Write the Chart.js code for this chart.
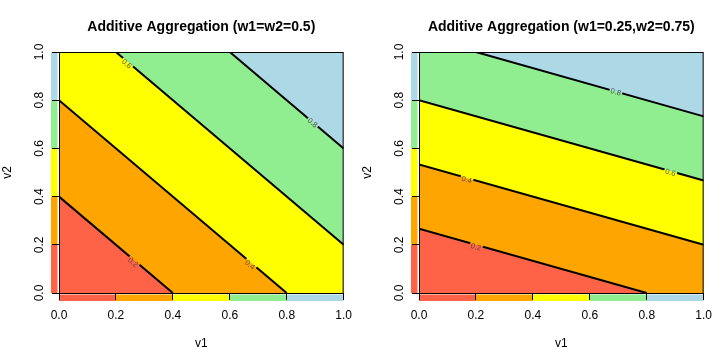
<!DOCTYPE html>
<html>
<head>
<meta charset="utf-8">
<script src="https://cdn.jsdelivr.net/npm/chart.js@4.4.0/dist/chart.umd.min.js"></script>
<style>
body { margin: 0; background: #fff; }
#wrap { position: relative; width: 720px; height: 360px; }
.box { position: absolute; top: 0; width: 360px; height: 360px; }
</style>
</head>
<body>
<div id="wrap">
  <div class="box" style="left:0"><canvas id="left-chart" width="360" height="360"></canvas></div>
  <div class="box" style="left:360px"><canvas id="right-chart" width="360" height="360"></canvas></div>
</div>
<script>
const FONT = '"Liberation Sans", Arial, sans-serif';

// contour levels and the colour of each band between them
const levels = [0, 0.2, 0.4, 0.6, 0.8, 1.0];
const levelColors = ['#FF6347', '#FFA500', '#FFFF00', '#90EE90', '#ADD8E6'];

const tickValues = [0, 0.2, 0.4, 0.6, 0.8, 1.0];
const tickLabels = ['0.0', '0.2', '0.4', '0.6', '0.8', '1.0'];

// left panel (w1=w2=0.5): upper edge of each coloured band
const leftBandV1 = [[0, 0.4, 1], [0, 0.8, 1], [0, 0.2, 1], [0, 0.6, 1], [0, 1]];
const leftBandV2 = [[0.4, 0, 0], [0.8, 0, 0], [1, 1, 0.2], [1, 1, 0.6], [1, 1]];
// contour lines 0.2, 0.4, 0.6, 0.8
const leftLineV1 = [[0, 0.4], [0, 0.8], [0.2, 1], [0.6, 1]];
const leftLineV2 = [[0.4, 0], [0.8, 0], [1, 0.2], [1, 0.6]];
// where the contour labels sit
const leftLabelV1 = [0.259, 0.67, 0.237, 0.89];
const leftLabelV2 = [0.126, 0.116, 0.95, 0.705];

// right panel (w1=0.25, w2=0.75)
const rightBandV1 = [[0, 0.8, 1], [0, 1], [0, 1], [0, 0.2, 1], [0, 1]];
const rightBandV2 = [[0.267, 0, 0], [0.533, 0.2], [0.8, 0.467], [1, 1, 0.733], [1, 1]];
const rightLineV1 = [[0, 0.8], [0, 1], [0, 1], [0.2, 1]];
const rightLineV2 = [[0.267, 0], [0.533, 0.2], [0.8, 0.467], [1, 0.733]];
const rightLabelV1 = [0.2, 0.167, 0.883, 0.691];
const rightLabelV2 = [0.19, 0.469, 0.499, 0.833];

function toPoints(xs, ys) {
  return xs.map((x, i) => ({ x: x, y: ys[i] }));
}

function makePanel(id, title, bandV1, bandV2, lineV1, lineV2, labV1, labV2) {
  const datasets = [];
  for (let i = 0; i < bandV1.length; i++) {
    datasets.push({
      data: toPoints(bandV1[i], bandV2[i]),
      backgroundColor: levelColors[i],
      borderColor: 'rgba(0,0,0,0)',
      borderWidth: 0,
      fill: 'start',
      pointRadius: 0,
      order: i + 1
    });
  }
  for (let i = 0; i < lineV1.length; i++) {
    datasets.push({
      data: toPoints(lineV1[i], lineV2[i]),
      borderColor: '#000',
      borderWidth: 2,
      fill: false,
      pointRadius: 0,
      order: 0
    });
  }
  const nBands = bandV1.length;

  function labelAngle(chart, i) {
    const xs = chart.scales.x, ys = chart.scales.y;
    const lx = lineV1[i], ly = lineV2[i];
    return Math.atan2(ys.getPixelForValue(ly[1]) - ys.getPixelForValue(ly[0]),
                      xs.getPixelForValue(lx[1]) - xs.getPixelForValue(lx[0]));
  }

  const panelPlugin = {
    id: 'panel',
    beforeDraw(chart) {
      const c = chart.ctx, a = chart.chartArea;
      const xs = chart.scales.x, ys = chart.scales.y;
      // colour strips along the axes
      for (let i = 0; i < levelColors.length; i++) {
        c.fillStyle = levelColors[i];
        const y0 = ys.getPixelForValue(levels[i + 1]), y1 = ys.getPixelForValue(levels[i]);
        c.fillRect(a.left - 8, y0, 6.5, y1 - y0);
        const x0 = xs.getPixelForValue(levels[i]), x1 = xs.getPixelForValue(levels[i + 1]);
        c.fillRect(x0, a.bottom + 1.5, x1 - x0, 6.5);
      }
    },
    beforeDatasetDraw(chart, args) {
      // leave a gap in each contour line where its label goes
      if (args.index < nBands) return;
      const i = args.index - nBands;
      const c = chart.ctx, xs = chart.scales.x, ys = chart.scales.y;
      const cx = xs.getPixelForValue(labV1[i]), cy = ys.getPixelForValue(labV2[i]);
      const ang = labelAngle(chart, i);
      const ca = Math.cos(ang), sa = Math.sin(ang), hw = 6.5, hh = 4;
      c.save();
      c.beginPath();
      c.rect(0, 0, chart.width, chart.height);
      const corners = [[-hw, -hh], [hw, -hh], [hw, hh], [-hw, hh]];
      corners.forEach((p, k) => {
        const px = cx + p[0] * ca - p[1] * sa, py = cy + p[0] * sa + p[1] * ca;
        if (k === 0) c.moveTo(px, py); else c.lineTo(px, py);
      });
      c.closePath();
      c.clip('evenodd');
    },
    afterDatasetDraw(chart, args) {
      if (args.index < nBands) return;
      chart.ctx.restore();
    },
    afterDraw(chart) {
      const c = chart.ctx, a = chart.chartArea;
      const xs = chart.scales.x, ys = chart.scales.y;
      // contour labels
      c.save();
      c.font = '7.5px ' + FONT;
      c.fillStyle = 'rgba(70,70,70,0.9)';
      c.textAlign = 'center';
      c.textBaseline = 'middle';
      for (let i = 0; i < labV1.length; i++) {
        c.save();
        c.translate(xs.getPixelForValue(labV1[i]), ys.getPixelForValue(labV2[i]));
        c.rotate(labelAngle(chart, i));
        c.fillText(levels[i + 1].toFixed(1), 0, 0);
        c.restore();
      }
      c.restore();
      // box
      c.save();
      c.strokeStyle = '#000';
      c.lineWidth = 1;
      c.strokeRect(a.left + 0.5, a.top + 0.5, a.right - a.left - 1, a.bottom - a.top);
      // rotated y tick labels
      c.fillStyle = '#000';
      c.font = '12px ' + FONT;
      c.textAlign = 'center';
      c.textBaseline = 'alphabetic';
      tickValues.forEach((v, i) => {
        c.save();
        c.translate(a.left - 16, ys.getPixelForValue(v));
        c.rotate(-Math.PI / 2);
        c.fillText(tickLabels[i], 0, 0);
        c.restore();
      });
      // title
      c.font = 'bold 14px ' + FONT;
      c.textBaseline = 'middle';
      c.fillText(title, (a.left + a.right) / 2, 27);
      c.restore();
    }
  };

  new Chart(document.getElementById(id), {
    type: 'line',
    data: { datasets: datasets },
    options: {
      responsive: false,
      animation: false,
      events: [],
      layout: { padding: { top: 52, right: 16, left: 0, bottom: 0 } },
      plugins: { legend: { display: false }, tooltip: { enabled: false }, title: { display: false } },
      scales: {
        x: {
          type: 'linear', min: 0, max: 1,
          afterBuildTicks: s => { s.ticks = tickValues.map(v => ({ value: v })); },
          afterFit: s => { s.height = 67; },
          ticks: { callback: (v, i) => tickLabels[i], font: { family: FONT, size: 12 }, color: '#000', padding: 8, maxRotation: 0, autoSkip: false },
          grid: { drawOnChartArea: false, color: '#000', tickLength: 7, lineWidth: 1 },
          border: { color: '#000', width: 1 },
          title: { display: true, text: 'v1', font: { family: FONT, size: 12 }, color: '#000', padding: { top: 0, bottom: 9 } }
        },
        y: {
          type: 'linear', min: 0, max: 1,
          afterBuildTicks: s => { s.ticks = tickValues.map(v => ({ value: v })); },
          afterFit: s => { s.width = 59; },
          ticks: { display: false },
          grid: { drawOnChartArea: false, color: '#000', tickLength: 7, lineWidth: 1 },
          border: { color: '#000', width: 1 },
          title: { display: true, text: 'v2', font: { family: FONT, size: 12 }, color: '#000', padding: 0 }
        }
      }
    },
    plugins: [panelPlugin]
  });
}

makePanel('left-chart', 'Additive Aggregation (w1=w2=0.5)',
  leftBandV1, leftBandV2, leftLineV1, leftLineV2, leftLabelV1, leftLabelV2);
makePanel('right-chart', 'Additive Aggregation (w1=0.25,w2=0.75)',
  rightBandV1, rightBandV2, rightLineV1, rightLineV2, rightLabelV1, rightLabelV2);
</script>
</body>
</html>
